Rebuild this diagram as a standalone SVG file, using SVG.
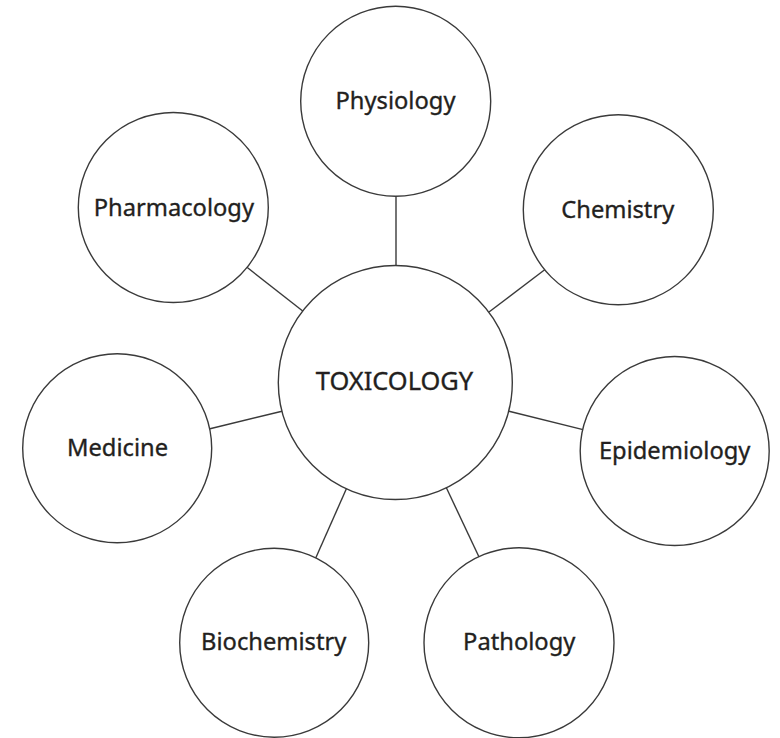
<svg xmlns="http://www.w3.org/2000/svg" width="780" height="738" viewBox="0 0 780 738">
<style>
.c{fill:#fff;stroke:#3a3a3a;stroke-width:1.4}
.l{stroke:#3a3a3a;stroke-width:1.4;fill:none}
.t{font-family:"Noto Sans","Open Sans",sans-serif;font-size:23.7px;fill:#231f20;stroke:#231f20;stroke-width:0.35;text-anchor:middle}
</style>
<rect width="780" height="738" fill="#fff"/>
<g id="connectors">
<line class="l" x1="396" y1="194" x2="396" y2="267"/>
<line class="l" x1="247" y1="267.3" x2="304" y2="312"/>
<line class="l" x1="545" y1="269.5" x2="489" y2="312"/>
<line class="l" x1="210" y1="428.7" x2="282" y2="411.2"/>
<line class="l" x1="509" y1="411.2" x2="583" y2="429.6"/>
<line class="l" x1="315.5" y1="558.5" x2="346.5" y2="488.5"/>
<line class="l" x1="446" y1="487" x2="479.5" y2="558"/>
</g>
<g id="toxicology"><circle class="c" cx="395.3" cy="382.5" r="117"/><text class="t" x="394.5" y="389.5" style="font-size:25.4px">TOXICOLOGY</text></g>
<g id="physiology"><circle class="c" cx="395.7" cy="101.3" r="95"/><text class="t" x="395.5" y="109.3">Physiology</text></g>
<g id="pharmacology"><circle class="c" cx="173.3" cy="207.5" r="95"/><text class="t" x="173.9" y="216">Pharmacology</text></g>
<g id="chemistry"><circle class="c" cx="618.3" cy="209.7" r="95"/><text class="t" x="617.8" y="218">Chemistry</text></g>
<g id="medicine"><circle class="c" cx="117.2" cy="448.3" r="94.5"/><text class="t" x="117.5" y="455.7">Medicine</text></g>
<g id="epidemiology"><circle class="c" cx="674.7" cy="451" r="94.5"/><text class="t" x="674.7" y="459">Epidemiology</text></g>
<g id="biochemistry"><circle class="c" cx="274.2" cy="642.7" r="94.5"/><text class="t" x="273.7" y="650">Biochemistry</text></g>
<g id="pathology"><circle class="c" cx="519" cy="642.8" r="95"/><text class="t" x="519.2" y="650">Pathology</text></g>
</svg>
